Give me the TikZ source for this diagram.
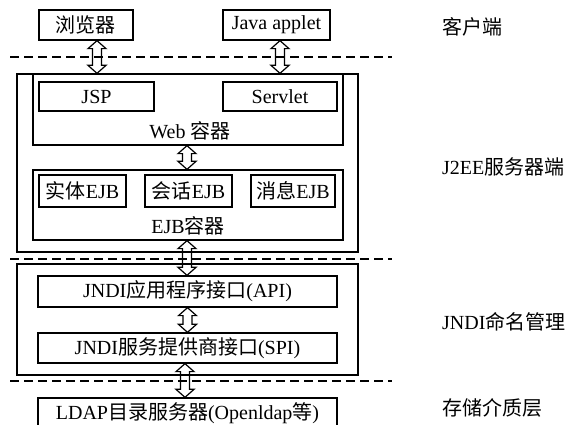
\documentclass[tikz,border=0pt]{standalone}
\usepackage{fontspec}
\setmainfont{Liberation Serif}
\newfontfamily\cjk{Noto Sans CJK SC}
\usetikzlibrary{calc}
\begin{document}
\begin{tikzpicture}[x=1pt,y=-1pt,
  box/.style={draw, line width=1.3pt, inner sep=0pt, font=\fontsize{20}{22}\selectfont},
  lbl/.style={inner sep=0pt, font=\fontsize{20}{22}\selectfont},
  sepline/.style={line width=1.3pt, dash pattern=on 9pt off 5pt},
  harrow/.style={line width=1.2pt, to path={let \p1=(\tikztostart), \p2=(\tikztotarget) in
    (\x1,\y1) -- (\x1+9pt,\y1-8pt) -- (\x1+4.5pt,\y1-8pt) -- (\x1+4.5pt,\y2+8pt) -- (\x1+9pt,\y2+8pt)
    -- (\x1,\y2) -- (\x1-9pt,\y2+8pt) -- (\x1-4.5pt,\y2+8pt) -- (\x1-4.5pt,\y1-8pt) -- (\x1-9pt,\y1-8pt) -- cycle}}]
\useasboundingbox (0,0) rectangle (574,425);
\clip (0,0) rectangle (574,425);

% separators
\draw[sepline] (10,57) -- (392,57);
\draw[sepline] (10,259) -- (392,259);
\draw[sepline] (10,381) -- (392,381);

% client
\node[box, minimum width=94pt, minimum height=30pt] (b1) at (86,25) {{\cjk 浏览器}};
\node[box, minimum width=107pt, minimum height=30pt] (b2) at (276.5,25) {Java applet};

% J2EE server
\node[box, minimum width=341pt, minimum height=178pt] (o1) at (187.5,163) {};
\node[box, minimum width=310pt, minimum height=71pt] (web) at (188,109.5) {};
\node[box, minimum width=115pt, minimum height=29pt] (jsp) at (96.5,96.5) {JSP};
\node[box, minimum width=114pt, minimum height=29pt] (srv) at (280,96.5) {Servlet};
\node[lbl] (weblbl) at (190,131) {Web {\cjk 容器}};
\node[box, minimum width=310pt, minimum height=70pt] (ejb) at (188,205) {};
\node[box, minimum width=87pt, minimum height=32pt] (e1) at (82.5,191) {{\cjk 实体}EJB};
\node[box, minimum width=87pt, minimum height=32pt] (e2) at (188.5,191) {{\cjk 会话}EJB};
\node[box, minimum width=84pt, minimum height=32pt] (e3) at (293,191) {{\cjk 消息}EJB};
\node[lbl] (ejblbl) at (188,226) {EJB{\cjk 容器}};

% JNDI
\node[box, minimum width=341pt, minimum height=111pt] (o2) at (187.5,319.5) {};
\node[box, minimum width=299pt, minimum height=31pt] (api) at (187.5,291.5) {JNDI{\cjk 应用程序接口}(API)};
\node[box, minimum width=299pt, minimum height=30pt] (spi) at (187.5,348) {JNDI{\cjk 服务提供商接口}(SPI)};

% storage
\node[box, minimum width=299pt, minimum height=30pt] (ldap) at (187.5,413) {LDAP{\cjk 目录服务器}(Openldap{\cjk 等})};

% layer labels
\node[lbl, anchor=west] (l1) at (442,27) {\cjk 客户端};
\node[lbl, anchor=west] (l2) at (442,167) {J2EE{\cjk 服务器端}};
\node[lbl, anchor=west] (l3) at (442,322) {JNDI{\cjk 命名管理}};
\node[lbl, anchor=west] (l4) at (442,408) {\cjk 存储介质层};

% arrows
\coordinate (p1) at ($(b1.south)+(11,0)$);
\coordinate (p2) at ($(b2.south)+(3.5,0)$);
\draw[harrow] (p1) to (p1 |- web.north);
\draw[harrow] (p2) to (p2 |- web.north);
\draw[harrow] ([xshift=-1pt]web.south) to ([xshift=-1pt]ejb.north);
\draw[harrow] ([xshift=-1pt]ejb.south) to ([xshift=-0.5pt]api.north);
\draw[harrow] (api.south) to (spi.north);
\draw[harrow] ([xshift=-2.5pt]spi.south) to ([xshift=-2.5pt]ldap.north);
\end{tikzpicture}
\end{document}
